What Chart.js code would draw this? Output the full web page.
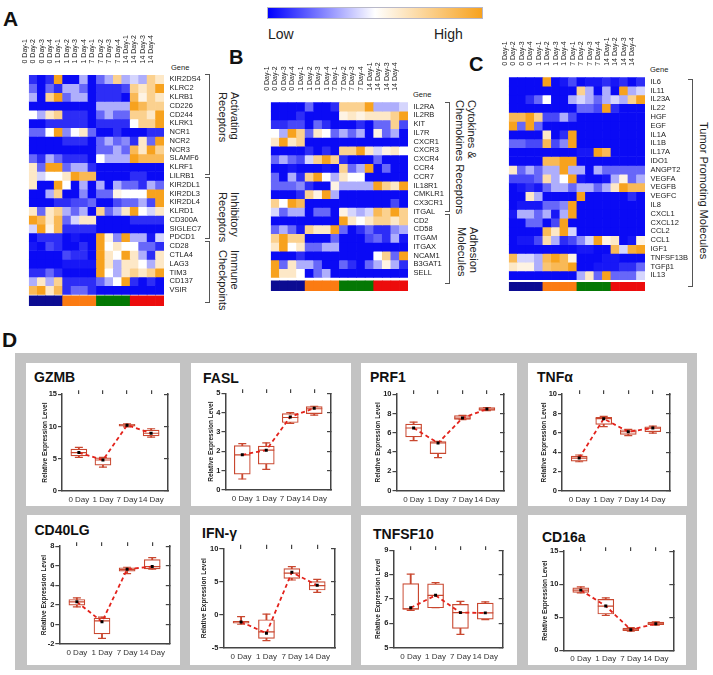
<!DOCTYPE html>
<html><head><meta charset="utf-8"><title>NK cell expression figure</title>
<script src="https://cdn.jsdelivr.net/npm/chart.js@4.4.1/dist/chart.umd.min.js"></script>
<style>
html,body{margin:0;padding:0;background:#fff;}
body{position:relative;width:713px;height:675px;overflow:hidden;font-family:Arial,"Liberation Sans",Helvetica,sans-serif;color:#111;}
.t{position:absolute;white-space:nowrap;}
.letter{font-weight:bold;font-size:21px;line-height:21px;color:#111;}
.grp{position:absolute;transform:rotate(90deg);transform-origin:0 0;font-size:11px;line-height:11.7px;white-space:nowrap;color:#222;}
.br{position:absolute;border:1.5px solid #555;border-left:none;width:5px;box-sizing:border-box;}
.gene{font-family:"Liberation Sans Narrow","Arial Narrow",Arial,sans-serif;font-size:7.5px;line-height:8px;color:#222;}
.btitle{font-weight:bold;font-size:14px;line-height:14px;color:#111;}
#panel{position:absolute;left:15px;top:353px;width:682px;height:317px;background:#c3c3c3;}
.wbox{position:absolute;background:#fff;}
#legend{position:absolute;left:267px;top:7px;width:216px;height:12px;background:linear-gradient(to right,#0000ff 0%,#ffffff 50%,#f7a21e 100%);border:1px solid #b8b8c8;box-sizing:border-box;}
.lh{font-size:14px;line-height:14px;color:#222;}
canvas{position:absolute;}
</style></head><body>
<div class="t letter" style="left:3px;top:8px;">A</div>
<div class="t letter" style="left:229px;top:47px;font-size:20px;">B</div>
<div class="t letter" style="left:469px;top:54px;font-size:20px;">C</div>
<div class="t letter" style="left:2px;top:329px;">D</div>
<div id="legend"></div>
<div class="t lh" style="left:268px;top:27px;">Low</div>
<div class="t lh" style="left:434px;top:27px;">High</div>
<div class="t gene" style="left:171px;top:64px;">Gene</div>
<div class="t gene" style="left:413px;top:91px;">Gene</div>
<div class="t gene" style="left:650px;top:66px;">Gene</div>
<div class="br" style="left:205px;top:74px;height:101px;"></div>
<div class="br" style="left:205px;top:176.5px;height:62px;"></div>
<div class="br" style="left:205px;top:240.5px;height:62px;"></div>
<div class="br" style="left:445px;top:102px;height:110px;"></div>
<div class="br" style="left:445px;top:214px;height:70px;"></div>
<div class="br" style="left:688px;top:79px;height:208px;"></div>
<div class="grp" style="left:240px;top:92px;">Activating<br>Receptors</div>
<div class="grp" style="left:240px;top:192px;">Inhibitory<br>Receptors</div>
<div class="grp" style="left:240px;top:250px;">Immune<br>Checkpoints</div>
<div class="grp" style="left:477px;top:100px;">Cytokines &amp;<br>Chemokines Receptors</div>
<div class="grp" style="left:479px;top:227px;">Adhesion<br>Molecules</div>
<div class="grp" style="left:709px;top:122px;">Tumor Promoting Molecules</div>
<div id="panel"></div>
<script>
// ---------------- DATA ----------------
const colLabels = ['0 Day-1','0 Day-2','0 Day-3','0 Day-4','1 Day-1','1 Day-2','1 Day-3','1 Day-4','7 Day-1','7 Day-2','7 Day-3','7 Day-4','14 Day-1','14 Day-2','14 Day-3','14 Day-4'];
const dayGroups = ['0 Day','1 Day','7 Day','14 Day'];
const dayLabels = ['0 Day','1 Day','7 Day','14 Day'];

// heatmap values: 0 = low (blue), 4 = middle (white), 8 = high (orange)
const genesA = ['KIR2DS4','KLRC2','KLRB1','CD226','CD244','KLRK1','NCR1','NCR2','NCR3','SLAMF6','KLRF1','LILRB1','KIR2DL1','KIR2DL3','KIR2DL4','KLRD1','CD300A','SIGLEC7','PDCD1','CD28','CTLA4','LAG3','TIM3','CD137','VSIR'];
const valuesA = [
 [1,0,1,8, 0,0,3,0, 2,3,6,3, 3.5,3,6,5],
 [2,0,2,1, 3,3,2,0, 1,1,1,1.5, 6,5,6,8],
 [3,0,6,8, 2,3,3,0, 1,1,1,0, 7,4.5,6,5],
 [0,0,0,0, 0,0,0,0, 3,3,3,3, 8,7,6,6],
 [4,3,5,6, 1,1,1,0, 2,3,2,2, 6,6,5,8],
 [0,0,1,1, 1,1,1,0, 1,1,1,1, 4,6,6,8],
 [2,2,4,8, 2.5,4,5,2, 0,0,1,0, 0,0,1,1],
 [0,0,0,0, 1,1,1,0, 2,3,2,2.5, 1,5,2,8],
 [0,0,0,0, 0,0,0,0, 2,2,3,2, 7,5,8,6],
 [2,1,3,2, 1,1,1,0, 4,3,3,3, 8,7,7,7],
 [5,2,8,8, 2,3,3,1, 0,0,0,0, 0,0,0,0],
 [5,3.5,4,4, 5,8,7,7, 0,0,0,0, 1,1,0,0],
 [5,0,0,8, 4,0,3,0, 3,0,3,2, 2,1,3,2],
 [0,0,3,6, 0,0,2.5,0, 2,2,4.5,4, 4,4,8,8],
 [0,0,0,1, 1,1.5,1.5,2, 0,0,1.5,2, 2,3,1.5,8],
 [5,2,5,6, 3,2,3,0, 6,2,3,5, 8,4,3.5,5],
 [8,7,5,7, 2,3.5,5,5, 0,0,0,0, 1,1,1,1],
 [3.5,8,4.5,7, 1,1,1,1, 0,0,0,0, 0,0,0,0],
 [0,1,1,1, 0,0.5,0,0, 8,4.5,2.5,8, 3,3,0.5,3.5],
 [0.5,0,1.5,1, 0,0,1,0, 8,4,5,4, 4,2,2,1],
 [0,0,0,0, 1.5,1,1,0, 8,5,4,8, 5,3,1,5],
 [0,0,0,0, 0.5,0.5,0.5,0.5, 8,5,3,5, 5,4,3,5],
 [1,1,2,1, 0,0,0,0, 8,4,3,5, 6,5,6,8],
 [3,5,3,6, 1,1,1,1, 2,3,4,8, 1,0,1,0],
 [7,8,5,7, 1,2,2,1, 0,0,0,0, 0,0,0,0]
];
const genesB = ['IL2RA','IL2RB','KIT','IL7R','CXCR1','CXCR3','CXCR4','CCR4','CCR7','IL18R1','CMKLR1','CX3CR1','ITGAL','CD2','CD58','ITGAM','ITGAX','NCAM1','B3GAT1','SELL'];
const valuesB = [
 [0,0,0,0, 2,0,0,1, 6,6,6,8, 3,3,3,3.5],
 [0,0,0,1, 0,0,0,0, 4.5,5,4.5,5, 5,5,6,8],
 [1,1,1.5,1.5, 0,2,1,0, 0,0,1,0, 2,2,6,1.5],
 [4,3,8,6, 2,5,4,2, 3,2,3,0, 4.5,2,3,0],
 [5,8,5,6, 0,0,0,0, 0,0,0,0, 0,0,0,0],
 [0,0,0,0, 1,0,1,0, 6,6,8,5, 3.5,4.5,5,4],
 [2,3,2,1.5, 3.5,6,8,6, 1,0,0,0, 2,0,0,0],
 [0,0,0.5,0, 0,0,0.5,0, 6,2,3,8, 0,2,0,0],
 [2,0,3,1, 6,8,4,3, 5,4,4,0, 0,0,0,0],
 [2,2,2,2.5, 1,0,0,4.5, 3,3,3,3, 8,6,5,8],
 [0,0,0,1, 6,4.5,8,3, 0,0,0,0, 0,0,0,0],
 [6,4,8,7, 0,0,0,0, 0,0,0,0, 0,0,1.5,0],
 [3.5,2,3,3, 0,2,2,0, 4.5,3.5,3,3.5, 7,6,8,6],
 [0,0,0,0, 0,0,0,0, 8,5,4,5, 6,6,5,6],
 [2,3,2,0.5, 6,5,5,8, 2,0,1,2, 1,1,2.5,3],
 [6,8,6,6, 0,0,0,2, 0,0,0,1.5, 2,1,3,0.5],
 [5,8,4,5, 2,2,3,3, 0,0,0,0, 0,0,0,0],
 [0,0,0,1, 0,0,0,0, 0,0,0,0, 4,6,2,8],
 [8,2,5,3, 3,2,0,0, 2,1,0,2, 3,4.5,3,1],
 [8,5,5,4, 0,2,3,0, 0,0,0,0, 0,0,0,0]
];
const genesC = ['IL6','IL11','IL23A','IL22','HGF','EGF','IL1A','IL1B','IL17A','IDO1','ANGPT2','VEGFA','VEGFB','VEGFC','IL8','CXCL1','CXCL12','CCL2','CCL1','IGF1','TNFSF13B','TGFβ1','IL13'];
const valuesC = [
 [0,0,0,0, 8,0,0.5,1.5, 0,0.5,0.5,1, 0.5,1,0,1],
 [0,0,0,0, 0,0,0,0, 6,3,0,3, 0,8,3,3.5],
 [0,0,1,2, 4,0,0,3, 3.5,3,2,3, 3.5,3,6,8],
 [0,0,0,0, 0,0,0,0, 2,2,1.5,8, 1,0,0,0],
 [7,7,8,6, 1.5,1.5,3,1.5, 0,0,0,0, 0,0,0,0],
 [8,2,8,2, 0,0,0,0, 0,0,0,0, 0,0,0,0],
 [0,0,0,0, 5,0,1,8, 0,0,0,0, 0,0,0,0],
 [2,2,1.5,1.5, 7,1.5,2.5,8, 0,0,0,0, 0,0,0,0],
 [0,0,0,0, 0,0,0,0, 0.5,0.5,8,7, 0,0,0,0],
 [0,0,0,0, 7,7,8,8, 0,0,0,0, 0,0,0,0],
 [5,2,3,2, 3,3,8,3, 3,0,3,2, 2,2,2,2],
 [1.5,1.5,1.5,2, 5.5,3,4,8, 0.5,0,0,0.5, 3,4.5,2,3],
 [0,0.5,1,0.5, 2,3,3,2, 3,3,2,3, 5,8,7,7],
 [0,0,5,3, 0,0,0,0, 8,0,0,0, 0,0,1,0],
 [0,0.5,0.5,0.5, 2,2,2.5,8, 0,0,0,0, 0,0,0,0],
 [0.5,3,3,2, 3,0.5,3,8, 0,0,0,0, 0,0,0,0],
 [0,0,2,2, 0,1.5,8,0, 0,0,0,0, 0,0,0,0],
 [0,0,0,0, 7,5,8,3.5, 0,0,0,0, 0,0,0,0],
 [0,0.5,0.5,1.5, 5.5,3,1,1.5, 2.5,3.5,8,4.5, 5,0,0.5,4.5],
 [0,0,0,0, 0,0,0,0, 0.5,0.5,0,0, 7,3.5,7.5,8],
 [7,3.5,3.5,3, 7,8,7,4.5, 0,0,0,0.5, 0.5,0,0,0],
 [5,4.5,4.5,3, 6.5,7,7,8, 0,0,0.5,0.5, 0.5,1,1,2],
 [0,0,0,0, 0,0,0,0, 3,5,2,8, 2,2,2,3.5]
];

// box plots: each row = [min, Q1, median, Q3, max, mean] for 0, 1, 7, 14 Day
const GZMB   = [[5.2,5.45,5.95,6.5,6.75,5.95],[3.7,4.0,4.8,5.15,5.2,4.8],[9.95,10.05,10.2,10.35,10.4,10.2],[8.35,8.55,8.95,9.45,9.65,8.95]];
const FASL   = [[0.57,0.82,1.82,2.3,2.4,1.82],[1.07,1.34,2.06,2.27,2.44,2.06],[3.45,3.49,3.75,3.95,4.0,3.78],[3.87,3.95,4.2,4.31,4.33,4.23]];
const PRF1   = [[5.18,5.56,6.49,6.9,7.1,6.49],[3.42,3.83,4.93,5.08,5.1,4.93],[7.35,7.39,7.52,7.77,7.8,7.52],[8.3,8.32,8.46,8.6,8.62,8.46]];
const TNFa   = [[3.0,3.07,3.38,3.59,3.7,3.38],[6.63,6.87,7.46,7.6,7.7,7.46],[5.7,5.83,6.11,6.32,6.35,6.11],[5.97,6.11,6.49,6.63,6.7,6.49]];
const CD40LG = [[1.8,1.97,2.31,2.55,2.71,2.31],[-1.43,-0.96,0.37,0.64,0.74,0.27],[5.2,5.44,5.64,5.8,5.85,5.64],[5.65,5.67,5.92,6.63,6.84,5.92]];
const IFNg   = [[-1.45,-1.3,-1.1,-1.0,-0.3,-1.1],[-3.94,-3.58,-2.6,-0.76,0.1,-2.8],[5.26,5.5,6.3,6.97,7.27,6.42],[3.39,3.74,4.4,5.0,5.36,4.45]];
const TNFSF10= [[6.53,6.57,6.6,7.63,8.02,6.64],[6.64,6.64,7.15,7.62,7.67,7.15],[5.55,5.79,6.44,6.78,6.9,6.44],[6.15,6.17,6.43,6.83,6.88,6.43]];
const CD16a  = [[8.7,8.76,9.11,9.46,9.6,9.11],[5.29,5.49,6.69,7.7,7.95,6.7],[2.9,2.96,3.11,3.37,3.45,3.11],[3.8,3.87,4.02,4.28,4.3,4.02]];
// y axis ticks: [min, max, step]
const GZMB_ticks=[0,15,5], FASL_ticks=[0,5,1], PRF1_ticks=[0,10,2], TNFa_ticks=[0,10,2];
const CD40LG_ticks=[-2,8,2], IFNg_ticks=[-5,10,5], TNFSF10_ticks=[5,9,1], CD16a_ticks=[0,15,5];

// ---------------- STYLE / LAYOUT ----------------
const NARROW = '"Liberation Sans Narrow","Arial Narrow",Arial,sans-serif';
Chart.defaults.font.family = 'Arial,"Liberation Sans",Helvetica,sans-serif';
Chart.defaults.color = '#222';
const dayColors = ['#0c0c92','#fb7b12','#047804','#ec0c0c'];
const BOXC = '#c9472f', AXC = '#444';

function heatColor(v){
  const t = v/8;
  let r,g,b;
  if (t <= 0.5){ const s = Math.pow(t/0.5, 1.4); r = 10+245*s; g = 10+245*s; b = 245+10*s; }
  else { const u = (t-0.5)/0.5; r = 255-8*u; g = 255-93*u; b = 255-225*u; }
  return `rgb(${Math.round(r)},${Math.round(g)},${Math.round(b)})`;
}
function addCanvas(l,t,w,h){
  const c = document.createElement('canvas');
  c.width = w; c.height = h;
  c.style.left = l+'px'; c.style.top = t+'px'; c.style.width = w+'px'; c.style.height = h+'px';
  document.body.appendChild(c); return c;
}
function addDiv(cls,l,t,w,h,txt){
  const d = document.createElement('div'); d.className = cls;
  d.style.left = l+'px'; d.style.top = t+'px';
  if (w!=null){ d.style.width = w+'px'; d.style.height = h+'px'; }
  if (txt) d.textContent = txt;
  document.body.appendChild(d); return d;
}

function drawHeatmap(genes, values, g){
  const n = genes.length;
  const rowPx = (g.rowsBottom - g.top)/n;
  const b0 = (g.barTop - g.top)/rowPx, b1 = (g.barBottom - g.top)/rowPx;
  const cl = Math.floor(g.left) - 6, ct = Math.floor(g.top) - 44;
  const cr = Math.ceil(g.right) + 46, cb = Math.ceil(g.barBottom) + 2;
  const canvas = addCanvas(cl, ct, cr-cl, cb-ct);
  const datasets = values.map((row, r) => ({ data: row.map(() => [r, r+1]), backgroundColor: row.map(heatColor) }));
  datasets.push({ data: colLabels.map(() => [b0, b1]), backgroundColor: colLabels.map(l => dayColors[dayGroups.indexOf(l.split('-')[0])]) });
  new Chart(canvas, {
    type: 'bar',
    data: { labels: colLabels, datasets },
    options: {
      responsive:false, animation:false, events:[], devicePixelRatio:1,
      layout:{ padding:{ left:g.left-cl, top:0, right:0, bottom:cb-g.barBottom } },
      plugins:{ legend:{display:false}, tooltip:{enabled:false} },
      datasets:{ bar:{ grouped:false, barPercentage:1, categoryPercentage:1, borderWidth:0, borderSkipped:false } },
      scales:{
        x:{ position:'top', offset:true, grid:{display:false, drawTicks:false}, border:{display:false},
            ticks:{ autoSkip:false, minRotation:90, maxRotation:90, padding:11.5, font:{family:NARROW, size:7}, color:'#222' },
            afterFit: s => { s.height = g.top - ct; } },
        y:{ type:'linear', position:'right', reverse:true, min:0, max:b1,
            grid:{display:false, drawTicks:false}, border:{display:false},
            afterBuildTicks: ax => { ax.ticks = genes.map((_, i) => ({ value: i + 0.5 })); },
            ticks:{ autoSkip:false, padding:5.5, font:{family:NARROW, size:7.5}, color:'#222', callback:(v, i) => genes[i] },
            afterFit: s => { s.width = cr - g.right; } }
      }
    }
  });
}

function drawBox(title, stats, yt, lay){
  const [bl,bt,br,bb] = lay.box, [L,T,R,B] = lay.plot;
  addDiv('wbox', bl, bt, br-bl, bb-bt);
  addDiv('t btitle', lay.title[0], lay.title[1]-1.9, null, null, title);
  const cl = Math.floor(bl)+1, cr = Math.floor(br)-1, ct = Math.floor(T)-9, cb = Math.floor(bb)-1;
  const canvas = addCanvas(cl, ct, cr-cl, cb-ct);
  const pts = k => stats.map((s, i) => ({ x:i, y:s[k] }));
  const tickList = ax => { ax.ticks = dayLabels.map((_, i) => ({ value:i })); };
  new Chart(canvas, {
    type:'bar',
    data:{ datasets:[
      { type:'scatter', data:pts(5), pointStyle:'rect', pointRadius:2.1, backgroundColor:'#000', borderColor:'#000', borderWidth:0, order:0 },
      { type:'line', data:pts(5), borderColor:'#e3221b', borderWidth:1.8, borderDash:[4,3], pointRadius:0, fill:false, tension:0, order:1 },
      { type:'scatter', data:pts(2), pointStyle:'line', pointRadius:8, borderColor:BOXC, borderWidth:1.2, order:2 },
      { type:'scatter', data:pts(0).concat(pts(4)), pointStyle:'line', pointRadius:4, borderColor:BOXC, borderWidth:1.2, order:3 },
      { type:'bar', data:stats.map((s, i) => ({ x:i, y:[s[1], s[3]] })), backgroundColor:'#fff', borderColor:BOXC, borderWidth:1.2, borderSkipped:false, barThickness:16, grouped:false, order:4 },
      { type:'bar', data:stats.map((s, i) => ({ x:i, y:[s[0], s[4]] })), backgroundColor:BOXC, borderWidth:0, barThickness:1.2, grouped:false, order:5 }
    ]},
    options:{
      responsive:false, animation:false, events:[], devicePixelRatio:1,
      layout:{ padding:0 },
      plugins:{ legend:{display:false}, tooltip:{enabled:false} },
      scales:{
        x:{ type:'linear', position:'bottom', min:-0.7, max:3.7, offset:false,
            afterBuildTicks:tickList,
            ticks:{ autoSkip:false, maxRotation:0, padding:4, font:{family:NARROW, size:8}, color:'#333', callback:(v, i) => dayLabels[i] },
            grid:{ display:false, drawTicks:false, offset:false }, border:{ display:true, color:AXC, width:1.5 },
            afterFit: s => { s.height = cb - B; } },
        xt:{ type:'linear', position:'top', min:-0.7, max:3.7, offset:false,
            afterBuildTicks:tickList, ticks:{ display:false },
            grid:{ display:true, drawOnChartArea:false, drawTicks:true, tickLength:4, color:AXC, lineWidth:1.2, offset:false }, border:{ display:false },
            afterFit: s => { s.height = T - ct; } },
        y:{ type:'linear', position:'left', min:yt[0], max:yt[1],
            ticks:{ stepSize:yt[2], padding:1, font:{ size:7.5, weight:'bold' }, color:'#222' },
            grid:{ display:true, drawOnChartArea:false, drawTicks:true, tickLength:4, color:AXC, lineWidth:1.2 }, border:{ display:true, color:AXC, width:1.5 },
            title:{ display:true, text:'Relative Expression Level', font:{ size:6.5, weight:'bold' }, color:'#222', padding:{ top: lay.yTitleX - cl - 3.9, bottom:0 } },
            afterFit: s => { s.width = L - cl; } },
        yr:{ type:'linear', position:'right', min:yt[0], max:yt[1],
            ticks:{ display:false, stepSize:yt[2] },
            grid:{ display:true, drawOnChartArea:false, drawTicks:true, tickLength:-4, color:AXC, lineWidth:1.2 }, border:{ display:true, color:AXC, width:1.5 },
            afterFit: s => { s.width = cr - R; } }
      }
    }
  });
}

drawHeatmap(genesA, valuesA, { left:19, right:164, top:75, rowsBottom:302, barTop:303.5, barBottom:314 });
drawHeatmap(genesB, valuesB, { left:261.7, right:408, top:102.3, rowsBottom:284.3, barTop:288, barBottom:298.5 });
drawHeatmap(genesC, valuesC, { left:499.5, right:645, top:77.3, rowsBottom:286.7, barTop:289.3, barBottom:298.3 });

drawBox('GZMB', GZMB, GZMB_ticks, { box:[26,363,180,505.5], plot:[62,394,168,491], title:[34,372], yTitleX:45 });
drawBox('FASL', FASL, FASL_ticks, { box:[190.5,363,351,505.5], plot:[225.5,393.3,331,490], title:[203,373], yTitleX:211.5 });
drawBox('PRF1', PRF1, PRF1_ticks, { box:[361,363,517,505.5], plot:[396.5,394,504,490.5], title:[370,372], yTitleX:378.5 });
drawBox('TNFα', TNFa, TNFa_ticks, { box:[528,363,686.5,505.5], plot:[562,394,670,490.7], title:[537,372], yTitleX:544.5 });
drawBox('CD40LG', CD40LG, CD40LG_ticks, { box:[26.5,515,180,665], plot:[59.3,546,170.7,644], title:[34.5,525], yTitleX:44.5 });
drawBox('IFN-γ', IFNg, IFNg_ticks, { box:[190,515,351,665], plot:[223.3,548.7,335,647.7], title:[202,528], yTitleX:204.5 });
drawBox('TNFSF10', TNFSF10, TNFSF10_ticks, { box:[361,515,517,665], plot:[393.3,550.3,502.7,647.7], title:[373,529], yTitleX:378.5 });
drawBox('CD16a', CD16a, CD16a_ticks, { box:[528,515,686,665], plot:[563.3,551,673.3,650.3], title:[542,532], yTitleX:545 });
</script>
</body></html>
